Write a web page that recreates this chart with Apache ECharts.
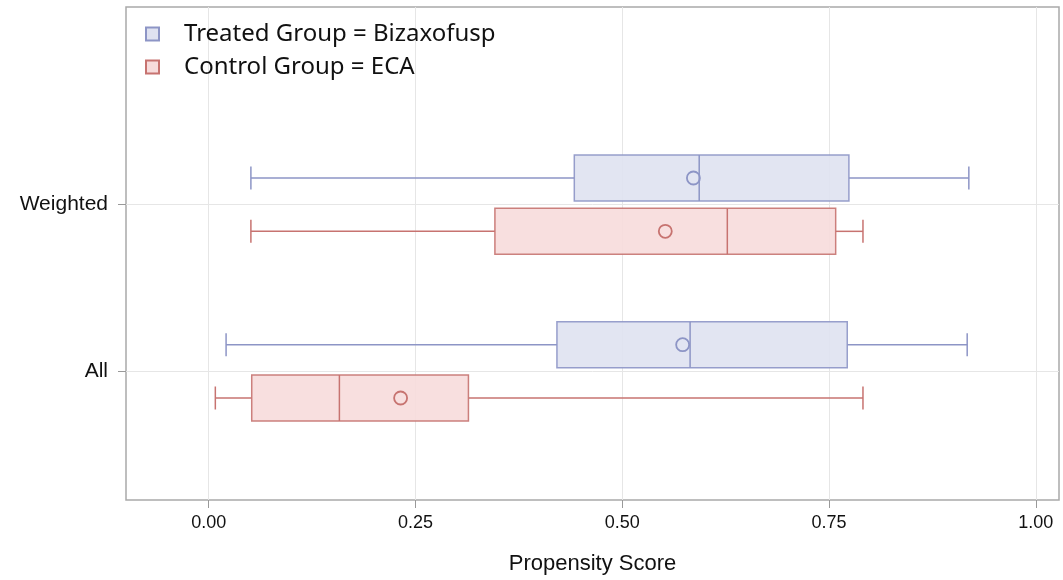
<!DOCTYPE html>
<html>
<head>
<meta charset="utf-8">
<script src="https://cdn.jsdelivr.net/npm/echarts@6/dist/echarts.min.js"></script>
<style>html,body{margin:0;padding:0;background:#fff}#c{width:1063px;height:580px}</style>
</head>
<body>
<div id="c"></div>
<script>
// Category rows (0 = All, 1 = Weighted)
const categories = ['All', 'Weighted'];
const seriesNames = ['Treated Group = Bizaxofusp', 'Control Group = ECA'];
// [row, min, Q1, median, Q3, max, mean]
const treatedStats = [
  [0, 0.021, 0.421, 0.582, 0.772, 0.917, 0.573],
  [1, 0.051, 0.442, 0.593, 0.774, 0.919, 0.586]
];
const controlStats = [
  [0, 0.008, 0.052, 0.158, 0.314, 0.791, 0.232],
  [1, 0.051, 0.346, 0.627, 0.758, 0.791, 0.552]
];
const xTicks = [0, 0.25, 0.5, 0.75, 1];
const yTicks = [0, 1];

const styles = [
  {fill: '#dfe2f1', stroke: '#8d95c6', offset: 0.16},
  {fill: '#f7dcdc', stroke: '#c77370', offset: -0.16}
];

function makeRender(st) {
  return function (params, api) {
    const row = api.value(0) + st.offset;
    const mn = api.value(1), q1 = api.value(2), md = api.value(3), q3 = api.value(4), mx = api.value(5), mean = api.value(6);
    const pMin = api.coord([mn, row]), pQ1 = api.coord([q1, row]), pMd = api.coord([md, row]);
    const pQ3 = api.coord([q3, row]), pMx = api.coord([mx, row]), pMean = api.coord([mean, row]);
    const half = Math.abs(api.coord([0, row + 0.138])[1] - pMd[1]);
    const cap = half / 2;
    const y = pMd[1];
    const ls = {stroke: st.stroke, lineWidth: 1.5};
    return {
      type: 'group',
      children: [
        {type: 'line', shape: {x1: pMin[0], y1: y, x2: pQ1[0], y2: y}, style: ls},
        {type: 'line', shape: {x1: pQ3[0], y1: y, x2: pMx[0], y2: y}, style: ls},
        {type: 'line', shape: {x1: pMin[0], y1: y - cap, x2: pMin[0], y2: y + cap}, style: ls},
        {type: 'line', shape: {x1: pMx[0], y1: y - cap, x2: pMx[0], y2: y + cap}, style: ls},
        {type: 'rect', shape: {x: pQ1[0], y: y - half, width: pQ3[0] - pQ1[0], height: 2 * half},
          style: {fill: st.fill, stroke: st.stroke, lineWidth: 1.5, opacity: 0.9}},
        {type: 'line', shape: {x1: pMd[0], y1: y - half, x2: pMd[0], y2: y + half}, style: ls},
        {type: 'circle', shape: {cx: pMean[0], cy: y, r: 6.5}, style: {fill: 'none', stroke: st.stroke, lineWidth: 1.8}}
      ]
    };
  };
}

const chart = echarts.init(document.getElementById('c'));
chart.setOption({
  animation: false,
  grid: {left: 126, right: 4, top: 7, bottom: 80, show: true, borderColor: '#a9a9a9', borderWidth: 1.5, backgroundColor: 'transparent'},
  legend: {
    orient: 'vertical', left: 140, top: 17, itemWidth: 13, itemHeight: 13, itemGap: 9,
    icon: 'rect',
    data: seriesNames,
    textStyle: {fontFamily: 'Noto Sans', fontSize: 24, color: '#111', padding: [0, 0, 0, 20]}
  },
  xAxis: {
    type: 'value', min: -0.1, max: 1.028,
    name: 'Propensity Score', nameLocation: 'middle', nameGap: 53,
    nameTextStyle: {fontFamily: 'Liberation Sans', fontSize: 22, color: '#111'},
    axisLine: {show: false, onZero: false},
    axisTick: {show: true, length: 8, customValues: xTicks, lineStyle: {color: '#999'}},
    axisLabel: {customValues: xTicks, margin: 14, fontFamily: 'Liberation Sans', fontSize: 18, color: '#111',
      formatter: v => v.toFixed(2)},
    splitLine: {show: true, lineStyle: {color: '#e6e6e6', width: 1}}
  },
  yAxis: {
    type: 'value', min: -0.772, max: 2.186,
    axisLine: {show: false, onZero: false},
    axisTick: {show: true, length: 8, customValues: yTicks, lineStyle: {color: '#999'}},
    axisLabel: {customValues: yTicks, margin: 18, fontFamily: 'Liberation Sans', fontSize: 21, color: '#111',
      formatter: v => categories[Math.round(v)] || ''},
    splitLine: {show: true, lineStyle: {color: '#e6e6e6', width: 1}}
  },
  series: [
    {name: seriesNames[0], type: 'custom', renderItem: makeRender(styles[0]), data: treatedStats,
      itemStyle: {color: styles[0].fill, borderColor: styles[0].stroke, borderWidth: 1.5},
      encode: {x: [1, 2, 3, 4, 5, 6], y: 0}},
    {name: seriesNames[1], type: 'custom', renderItem: makeRender(styles[1]), data: controlStats,
      itemStyle: {color: styles[1].fill, borderColor: styles[1].stroke, borderWidth: 1.5},
      encode: {x: [1, 2, 3, 4, 5, 6], y: 0}}
  ]
});
</script>
</body>
</html>
